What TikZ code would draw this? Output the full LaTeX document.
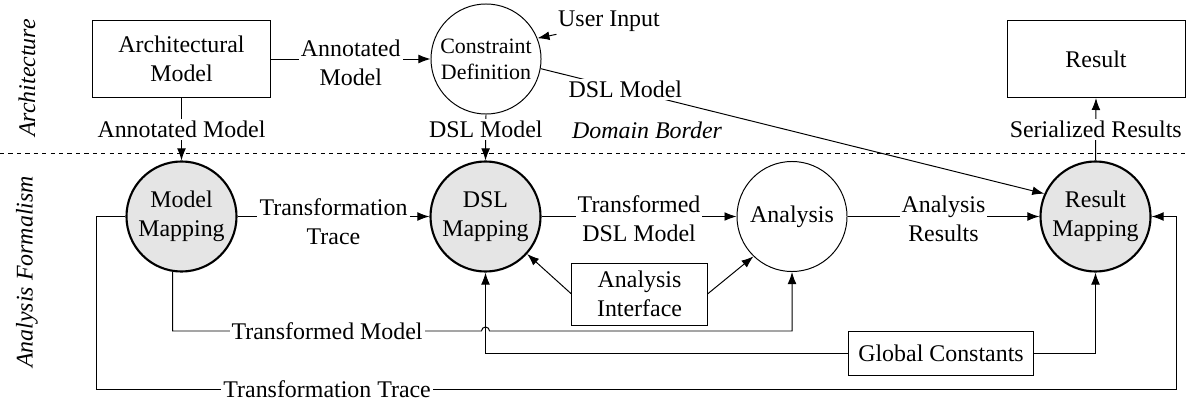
\documentclass[tikz,border=0pt]{standalone}
\usepackage{fontspec}
\setmainfont{Liberation Serif}
\usetikzlibrary{arrows.meta}

\tikzset{
  box/.style={draw, line width=0.7pt, align=center, inner sep=2pt},
  proc/.style={circle, draw, line width=0.7pt, minimum size=2.75cm, inner sep=0pt, align=center},
  mapping/.style={proc, fill=gray!20, line width=1.5pt},
  lbl/.style={fill=white, inner sep=1.5pt, align=center},
  side/.style={rotate=90, font=\fontsize{17}{20.5}\selectfont\itshape},
  conn/.style={line width=0.7pt, -{Latex[length=0.3cm, width=0.22cm]}}
}

\begin{document}
\begin{tikzpicture}[x=0.025cm, y=-0.025cm, font=\fontsize{17}{20.5}\selectfont]

        \useasboundingbox (0,0) rectangle (1188,407);

        \node (archside) [side] at (27,78) {Architecture};
        \node (analside) [side] at (27,272) {Analysis Formalism};
        \draw [dashed, line width=0.7pt] (0,153) -- (1188,153);
        \node (border) [font=\fontsize{17}{20.5}\selectfont\itshape] at (647,130) {Domain Border};

        \node (arch) [box, minimum width=4.45cm, minimum height=1.925cm] at (181.5,59) {Architectural\\Model};
        \node (constr) [proc, font=\fontsize{15.6}{18.5}\selectfont] at (486,59) {Constraint\\Definition};
        \node (userin) at (609,21) {User Input};
        \node (result) [box, minimum width=4.45cm, minimum height=1.925cm] at (1096,59) {Result};

        \node (modmap) [mapping] at (181.5,216.5) {Model\\Mapping};
        \node (dslmap) [mapping] at (485.5,216.5) {DSL\\Mapping};
        \node (analysis) [proc] at (792,216.5) {Analysis};
        \node (resmap) [mapping] at (1095.5,216.5) {Result\\Mapping};

        \node (iface) [box, minimum width=3.375cm, minimum height=1.55cm] at (639.5,294) {Analysis\\Interface};
        \node (glob) [box, minimum width=4.625cm, minimum height=1.1cm] at (941,353) {Global Constants};

        \coordinate (traceleft) at (96,389);
        \coordinate (traceright) at (1176,389);

        \draw [conn] (arch.east) -- node [lbl, yshift=-0.1cm] {Annotated\\Model} (constr.west);
        \draw [conn] ([xshift=0.08cm, yshift=0.05cm]userin.south west) -- (constr.22);
        \draw [conn] (constr.-10) -- node [lbl, pos=0.168] {DSL Model} (resmap.156);
        \draw [conn] (arch.south) -- node [lbl] {Annotated Model} (modmap.north);
        \draw [conn] (constr.south) -- node [lbl, pos=0.32] {DSL Model} (dslmap.north);
        \draw [conn] (resmap.north) -- node [lbl] {Serialized Results} (result.south);

        \draw [conn] (modmap.east) -- node [lbl, yshift=-0.13cm] {Transformation\\Trace} (dslmap.west);
        \draw [conn] (dslmap.east) -- node [lbl, yshift=-0.06cm] {Transformed\\DSL Model} (analysis.west);
        \draw [conn] (analysis.east) -- node [lbl, yshift=-0.06cm] {Analysis\\Results} (resmap.west);

        \draw [conn] (iface.west) -- (dslmap.-42);
        \draw [conn] (iface.east) -- (analysis.-134);

        \draw [conn] (modmap.-99) |- node [lbl, pos=0.75] {Transformed Model} (481.5,331)
            arc [start angle=180, end angle=0, radius=0.1cm] -| (analysis.south);
        \draw [conn] (glob.west) -| (dslmap.south);
        \draw [conn] (glob.east) -| (resmap.south);
        \draw [conn] (modmap.west) -| (traceleft) -- node [lbl, pos=0.214] {Transformation Trace} (traceright) |- (resmap.east);

\end{tikzpicture}
\end{document}
